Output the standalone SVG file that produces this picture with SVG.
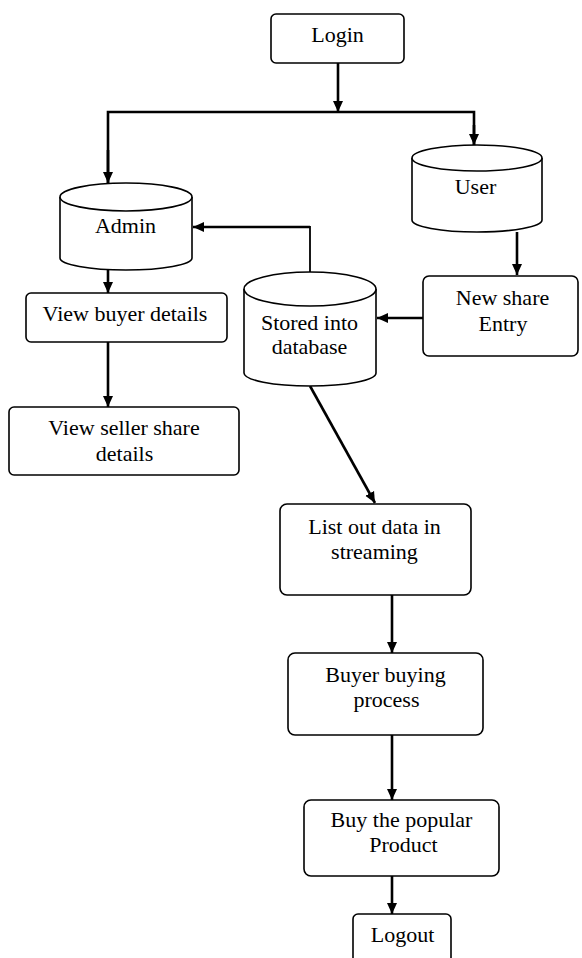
<svg xmlns="http://www.w3.org/2000/svg" width="582" height="958" viewBox="0 0 582 958">
<style>
.box{fill:#fff;stroke:#000;stroke-width:1.6}
.cyl{fill:#fff;stroke:#000;stroke-width:1.6}
.t{font-family:"Liberation Serif","Times New Roman",serif;font-size:22px;fill:#000;text-anchor:middle}
.c{fill:none;stroke:#000;stroke-width:2.6}
.thin{fill:none;stroke:#000;stroke-width:1.8}
</style>
<defs>
<marker id="ah" markerUnits="userSpaceOnUse" markerWidth="12" markerHeight="12" viewBox="0 0 12 12" refX="11" refY="6" orient="auto">
<path d="M0,1 L11,6 L0,11 Z" fill="#000"/>
</marker>
</defs>
<rect width="582" height="958" fill="#fff"/>
<g id="connectors">
<line class="c" x1="338" y1="63" x2="338" y2="112" marker-end="url(#ah)"/>
<polyline class="c" points="108,183 108,112 474,112 474,145" fill="none"/>
<line class="c" x1="108" y1="150" x2="108" y2="183" marker-end="url(#ah)"/>
<line class="c" x1="474" y1="125" x2="474" y2="145" marker-end="url(#ah)"/>
<line class="c" x1="517" y1="232" x2="517" y2="275" marker-end="url(#ah)"/>
<line class="c" x1="423" y1="318" x2="377" y2="318" marker-end="url(#ah)"/>
<polyline class="thin" points="310,272 310,227 230,227"/>
<line class="c" x1="310" y1="227" x2="193" y2="227" marker-end="url(#ah)"/>
<line class="c" x1="108" y1="270" x2="108" y2="293" marker-end="url(#ah)"/>
<line class="c" x1="108" y1="342" x2="108" y2="407" marker-end="url(#ah)"/>
<line class="c" x1="310" y1="386" x2="375" y2="503" marker-end="url(#ah)"/>
<line class="c" x1="392" y1="595" x2="392" y2="653" marker-end="url(#ah)"/>
<line class="c" x1="392" y1="735" x2="392" y2="800" marker-end="url(#ah)"/>
<line class="c" x1="392" y1="876" x2="392" y2="914" marker-end="url(#ah)"/>
</g>
<g id="login">
<rect class="box" x="271" y="14" width="133" height="49" rx="5"/>
<text class="t" x="337.5" y="42">Login</text>
</g>
<g id="admin">
<path class="cyl" d="M60,197 L60,258 A66,12 0 0 0 192,258 L192,197 A66,14 0 0 0 60,197 Z"/>
<path class="cyl" d="M60,197 A66,14 0 0 0 192,197" fill="none"/>
<text class="t" x="125.5" y="233">Admin</text>
</g>
<g id="user">
<path class="cyl" d="M412,158 L412,220 A65,12 0 0 0 542,220 L542,158 A65,13 0 0 0 412,158 Z"/>
<path class="cyl" d="M412,158 A65,13 0 0 0 542,158" fill="none"/>
<text class="t" x="475.5" y="194">User</text>
</g>
<g id="new-share-entry">
<rect class="box" x="423" y="276" width="155" height="80" rx="6"/>
<text class="t" x="502.5" y="305">New share</text>
<text class="t" x="503" y="331">Entry</text>
</g>
<g id="stored-into-database">
<path class="cyl" d="M244,289 L244,373 A66,13 0 0 0 376,373 L376,289 A66,17 0 0 0 244,289 Z"/>
<path class="cyl" d="M244,289 A66,17 0 0 0 376,289" fill="none"/>
<text class="t" x="309.5" y="330">Stored into</text>
<text class="t" x="309.5" y="354">database</text>
</g>
<g id="view-buyer-details">
<rect class="box" x="26" y="293" width="201" height="49" rx="5"/>
<text class="t" x="125" y="321">View buyer details</text>
</g>
<g id="view-seller-share-details">
<rect class="box" x="9" y="407" width="230" height="68" rx="5"/>
<text class="t" x="124" y="435">View seller share</text>
<text class="t" x="124.5" y="461">details</text>
</g>
<g id="list-out-data">
<rect class="box" x="280" y="504" width="191" height="91" rx="7"/>
<text class="t" x="374.5" y="534">List out data in</text>
<text class="t" x="374.5" y="559">streaming</text>
</g>
<g id="buyer-buying-process">
<rect class="box" x="288" y="653" width="195" height="82" rx="7"/>
<text class="t" x="385.5" y="682">Buyer buying</text>
<text class="t" x="386.5" y="707">process</text>
</g>
<g id="buy-popular-product">
<rect class="box" x="304" y="800" width="195" height="76" rx="7"/>
<text class="t" x="401.5" y="827">Buy the popular</text>
<text class="t" x="403.5" y="852">Product</text>
</g>
<g id="logout">
<rect class="box" x="353" y="914" width="98" height="60" rx="5"/>
<text class="t" x="402.5" y="942">Logout</text>
</g>
</svg>
